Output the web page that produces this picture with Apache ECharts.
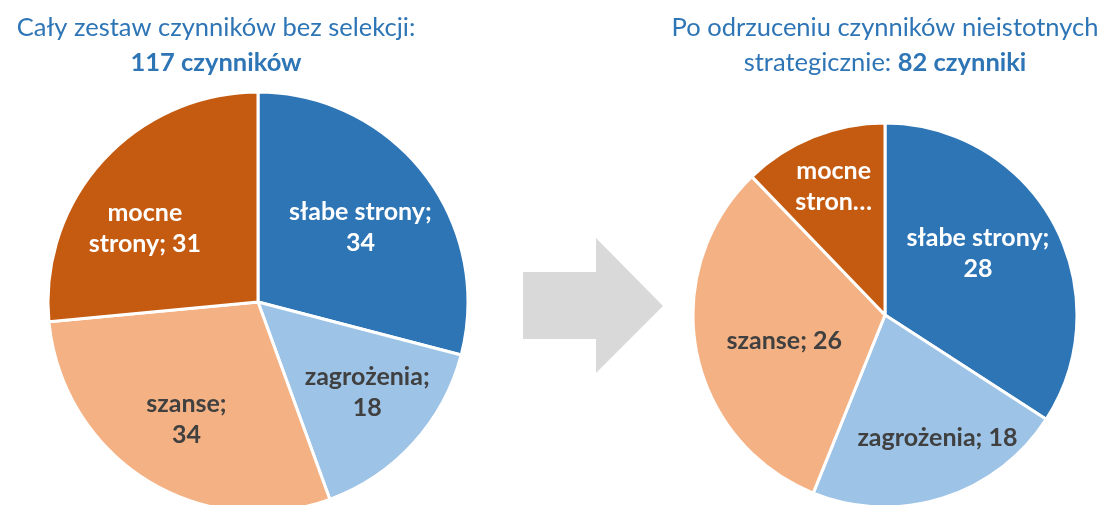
<!DOCTYPE html>
<html>
<head>
<meta charset="utf-8">
<script src="https://cdn.jsdelivr.net/npm/echarts@6/dist/echarts.min.js"></script>
<style>
  html, body { margin: 0; padding: 0; background: #ffffff; }
  #chart { width: 1103px; height: 505px; }
</style>
</head>
<body>
<div id="chart"></div>
<script>
// SWOT factor counts before and after removing strategically irrelevant factors
const categories = ['słabe strony', 'zagrożenia', 'szanse', 'mocne strony'];
const allFactors = [34, 18, 34, 31];
const strategicFactors = [28, 18, 26, 10];

const sliceColors = ['#2E75B6', '#9DC3E6', '#F4B183', '#C55A11'];
const labelColors = ['#ffffff', '#404040', '#404040', '#ffffff'];
const FONT = 'Lato, "Open Sans", sans-serif';

// How each label is broken into lines
const leftLabelModes = ['wrap', 'wrap', 'wrap', 'splitName'];
const rightLabelModes = ['wrap', 'inline', 'inline', 'clip'];

// Small per-slice label nudges (pixels) so text sits comfortably inside each slice
const leftLabelNudge = [[-8, 11], [6, -3], [3, 0], [-10, 20]];
const rightLabelNudge = [[-16, -2], [15, 5], [21, 2], [-5, -14]];

function labelText(name, value, mode) {
  if (mode === 'wrap') return name + ';\n' + value;
  if (mode === 'inline') return name + '; ' + value;
  const parts = name.split(' ');
  if (mode === 'splitName') return parts[0] + '\n' + parts[1] + '; ' + value;
  return parts[0] + '\n' + parts[1].slice(0, -1) + '…';
}

function sliceData(values) {
  return categories.map((name, i) => ({
    name: name,
    value: values[i],
    itemStyle: { color: sliceColors[i] }
  }));
}

function labelData(values, modes) {
  return categories.map((name, i) => ({
    name: name,
    value: values[i],
    itemStyle: { color: 'rgba(0,0,0,0)', borderWidth: 0 },
    label: {
      color: labelColors[i],
      formatter: () => labelText(name, values[i], modes[i])
    }
  }));
}

function pieSeries(center, radius, values) {
  return {
    type: 'pie',
    center: center,
    radius: radius,
    startAngle: 90,
    clockwise: true,
    silent: true,
    animation: false,
    label: { show: false },
    labelLine: { show: false },
    itemStyle: { borderColor: '#ffffff', borderWidth: 3 },
    data: sliceData(values)
  };
}

function labelSeries(center, inner, radius, values, modes, nudge) {
  return {
    type: 'pie',
    center: center,
    radius: [inner, radius],
    startAngle: 90,
    clockwise: true,
    silent: true,
    animation: false,
    z: 5,
    label: {
      show: true,
      position: 'inside',
      fontFamily: FONT,
      fontWeight: 'bold',
      fontSize: 25,
      lineHeight: 31,
      align: 'center'
    },
    labelLine: { show: false },
    labelLayout: (params) => ({
      dx: nudge[params.dataIndex][0],
      dy: nudge[params.dataIndex][1]
    }),
    data: labelData(values, modes)
  };
}

const titleStyle = {
  fontFamily: FONT,
  fontWeight: 'normal',
  fontSize: 25.5,
  lineHeight: 35,
  color: '#2E75B6',
  rich: {
    b: { fontFamily: FONT, fontWeight: 'bold', fontSize: 25.5, lineHeight: 35, color: '#2E75B6' }
  }
};

const chart = echarts.init(document.getElementById('chart'), null, { renderer: 'canvas' });

chart.setOption({
  backgroundColor: '#ffffff',
  animation: false,
  title: [
    {
      text: 'Cały zestaw czynników bez selekcji:\n{b|117 czynników}',
      left: 211,
      top: 5,
      textAlign: 'center',
      textStyle: titleStyle
    },
    {
      text: 'Po odrzuceniu czynników nieistotnych\nstrategicznie: {b|82 czynniki}',
      left: 880,
      top: 5,
      textAlign: 'center',
      textStyle: titleStyle
    }
  ],
  graphic: [
    {
      type: 'polygon',
      shape: {
        points: [[523, 272], [596, 272], [596, 238], [663, 306], [596, 373], [596, 339], [523, 339]]
      },
      style: { fill: '#D9D9D9' },
      silent: true
    }
  ],
  series: [
    pieSeries([258, 302], 210, allFactors),
    labelSeries([258, 302], 63, 210, allFactors, leftLabelModes, leftLabelNudge),
    pieSeries([885, 315], 192, strategicFactors),
    labelSeries([885, 315], 50, 192, strategicFactors, rightLabelModes, rightLabelNudge)
  ]
});
</script>
</body>
</html>
